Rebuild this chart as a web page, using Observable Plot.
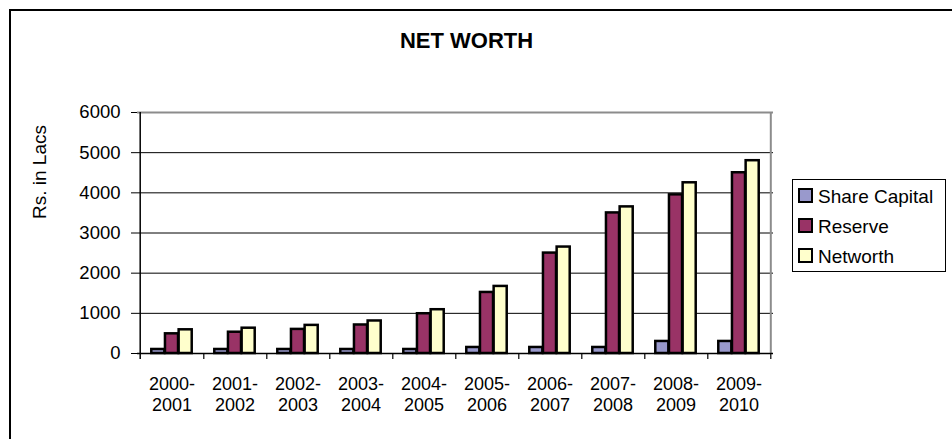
<!DOCTYPE html>
<html>
<head>
<meta charset="utf-8">
<script src="https://cdn.jsdelivr.net/npm/d3@7"></script>
<script src="https://cdn.jsdelivr.net/npm/@observablehq/plot@0.6"></script>
<style>
  html, body { margin: 0; padding: 0; background: #fff; }
  #wrap { position: relative; width: 952px; height: 439px; overflow: hidden; font-family: "Liberation Sans", Arial, sans-serif; color: #000; }
  #border { position: absolute; left: 9px; top: 9px; width: 1000px; height: 1000px; border: 2.5px solid #000; box-sizing: border-box; pointer-events: none; }
  #title { position: absolute; left: 0; top: 30px; width: 933px; text-align: center; font-weight: bold; font-size: 22px; line-height: 22px; }
  #chart { position: absolute; left: 0; top: 0; }
  #legend { position: absolute; left: 792px; top: 179px; width: 154px; height: 93px; border: 1px solid #000; box-sizing: border-box; background: #fff; }
  .sw { position: absolute; width: 15px; height: 15px; border: 2px solid #000; box-sizing: border-box; }
  .lt { position: absolute; font-size: 19px; line-height: 30px; height: 30px; white-space: nowrap; }
</style>
</head>
<body>
<div id="wrap">
  <div id="chart"></div>
  <div id="title">NET WORTH</div>
  <div id="legend"></div>
  <div id="border"></div>
</div>
<script>
// ---- data ----
const years = ["2000-2001","2001-2002","2002-2003","2003-2004","2004-2005","2005-2006","2006-2007","2007-2008","2008-2009","2009-2010"];
const seriesNames = ["Share Capital", "Reserve", "Networth"];
const shareCapital = [100, 100, 100, 100, 100, 150, 150, 150, 300, 300];
const reserve      = [490, 530, 600, 710, 990, 1520, 2500, 3500, 3950, 4500];
const networth     = [590, 630, 700, 810, 1090, 1670, 2650, 3650, 4250, 4800];
const seriesColors = ["#9999CC", "#993366", "#FFFFCC"];
const yTicks = [0, 1000, 2000, 3000, 4000, 5000, 6000];
const yLabel = "Rs. in Lacs";

// ---- layout ----
const W = 952, H = 439, ML = 137, MR = 179, MT = 112, MB = 86;
const step = (W - ML - MR) / years.length;
const barFrac = 0.215;
const padFrac = (1 - 3 * barFrac) / 2;

const seriesValues = [shareCapital, reserve, networth];
const barMarks = seriesValues.map((vals, k) =>
  Plot.barY(years.map((y, i) => ({year: y, value: vals[i]})), {
    x: "year", y: "value",
    fill: seriesColors[k], stroke: "#000", strokeWidth: 2.5,
    insetLeft: step * (padFrac + k * barFrac),
    insetRight: step * (1 - padFrac - (k + 1) * barFrac)
  })
);

const chart = Plot.plot({
  width: W, height: H,
  marginLeft: ML, marginRight: MR, marginTop: MT, marginBottom: MB,
  style: { fontFamily: "'Liberation Sans', Arial, sans-serif", fontSize: "18.5px", color: "#000", background: "transparent", overflow: "visible" },
  x: { type: "band", domain: years, padding: 0, axis: null },
  y: { domain: [0, 6000], axis: null },
  marks: [
    Plot.ruleY(yTicks.filter(t => t > 0 && t < 6000), { stroke: "#000", strokeWidth: 1 }),
    Plot.ruleY([6000], { stroke: "#8c8c8c", strokeWidth: 2 }),
    Plot.ruleX([years[years.length - 1]], { x: d => d, y1: 0, y2: 6000, dx: step / 2, stroke: "#8c8c8c", strokeWidth: 2 }),
    ...barMarks,
    Plot.ruleY([0], { stroke: "#000", strokeWidth: 1.5 }),
    Plot.ruleX(years, { x: d => d, y1: -150, y2: 0, dx: step / 2, stroke: "#000", strokeWidth: 1.2 }),
    Plot.ruleX([years[0]], { x: d => d, y1: -150, y2: 6000, dx: -step / 2, stroke: "#000", strokeWidth: 1.5 }),
    Plot.axisY({ ticks: yTicks, tickSize: 6, tickPadding: 11, label: null, tickFormat: d => String(d), fontSize: 18.5 }),
    Plot.text(years, { x: d => d, text: d => d.replace("-", "-\n"), frameAnchor: "bottom", lineAnchor: "top", dy: 21, lineHeight: 1.2, fontSize: 18 }),
    Plot.text([yLabel], { text: d => d, frameAnchor: "left", rotate: -90, dx: -98, dy: -14, fontSize: 19 })
  ]
});
document.getElementById("chart").appendChild(chart);

// ---- legend ----
const legend = document.getElementById("legend");
seriesNames.forEach((name, i) => {
  const sw = document.createElement("div");
  sw.className = "sw";
  sw.style.left = "5px";
  sw.style.top = (8 + 30 * i) + "px";
  sw.style.background = seriesColors[i];
  legend.appendChild(sw);
  const t = document.createElement("div");
  t.className = "lt";
  t.style.left = "25px";
  t.style.top = (1.5 + 30 * i) + "px";
  t.textContent = name;
  legend.appendChild(t);
});
</script>
</body>
</html>
